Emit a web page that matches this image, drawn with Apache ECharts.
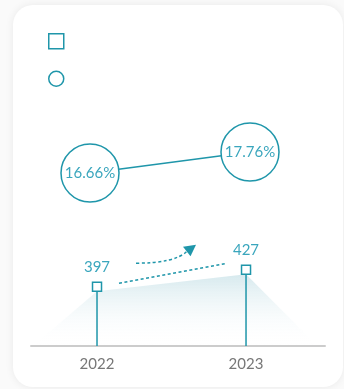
<!DOCTYPE html>
<html>
<head>
<meta charset="utf-8">
<script src="https://cdn.jsdelivr.net/npm/echarts@6/dist/echarts.min.js"></script>
<style>
  html, body { margin: 0; padding: 0; background: #fafafa; }
  #card { position: absolute; left: 13px; top: 5px; width: 330px; height: 382px;
          background: #fff; border-radius: 20px; box-shadow: 0 0 8px rgba(0,0,0,0.07); }
  #main { position: absolute; left: 0; top: 0; width: 344px; height: 389px; }
</style>
</head>
<body>
<div id="card"></div>
<div id="main"></div>
<script>
// 数据
var years = ['2022', '2023'];
var counts = [397, 427];
var ratios = [16.66, 17.76];
// 面积底边两端（年份坐标）
var areaEdges = [2021.57, 2023.48];

var teal = '#1f96aa';
var textTeal = '#3aa6bd';

var countPts = years.map(function (y, i) { return [Number(y), counts[i]]; });
var ratioPts = years.map(function (y, i) { return [Number(y), ratios[i]]; });
var areaPts = [[areaEdges[0], 300]].concat(countPts).concat([[areaEdges[1], 300]]);

var myChart = echarts.init(document.getElementById('main'));

var option = {
    animation: false,
    legend: {
        orient: 'vertical',
        left: 43,
        top: 28,
        itemWidth: 15,
        itemHeight: 15,
        itemGap: 21,
        formatter: function () { return ''; },
        data: [
            { name: '数量', icon: 'rect', itemStyle: { color: '#fff', borderColor: teal, borderWidth: 1.5 } },
            { name: '占比', icon: 'circle', itemStyle: { color: '#fff', borderColor: teal, borderWidth: 1.5 } }
        ]
    },
    grid: [
        { left: 31, right: 19, top: 233, height: 113 },
        { left: 90, width: 160, top: 109, height: 115 }
    ],
    xAxis: [
        {
            gridIndex: 0,
            type: 'value',
            min: 2021.557,
            max: 2023.53,
            splitLine: { show: false },
            axisTick: { show: false },
            axisLine: { show: true, onZero: false, lineStyle: { color: '#cccccc', width: 2 } },
            axisLabel: {
                customValues: [2022, 2023],
                margin: 11,
                color: '#777',
                fontSize: 15,
                fontFamily: 'Lato',
                formatter: function (v) { return String(v); }
            }
        },
        { gridIndex: 1, type: 'value', min: 2022, max: 2023, show: false }
    ],
    yAxis: [
        { gridIndex: 0, type: 'value', min: 300, max: 500, show: false },
        { gridIndex: 1, type: 'value', min: 14, max: 20, show: false }
    ],
    series: [
        {
            type: 'line',
            xAxisIndex: 0,
            yAxisIndex: 0,
            data: areaPts,
            symbol: 'none',
            silent: true,
            lineStyle: { width: 0, opacity: 0 },
            areaStyle: {
                color: new echarts.graphic.LinearGradient(0, 0, 0, 1, [
                    { offset: 0, color: 'rgba(30,135,160,0.26)' },
                    { offset: 1, color: 'rgba(255,255,255,0)' }
                ])
            },
            z: 1
        },
        {
            // 竖线
            type: 'custom',
            xAxisIndex: 0,
            yAxisIndex: 0,
            data: countPts,
            silent: true,
            renderItem: function (params, api) {
                var top = api.coord([api.value(0), api.value(1)]);
                var bottom = api.coord([api.value(0), 300]);
                return {
                    type: 'line',
                    shape: { x1: top[0], y1: top[1], x2: bottom[0], y2: bottom[1] },
                    style: { stroke: teal, lineWidth: 1.5 }
                };
            },
            z: 2
        },
        {
            name: '数量',
            type: 'scatter',
            xAxisIndex: 0,
            yAxisIndex: 0,
            data: countPts,
            symbol: 'rect',
            symbolSize: 9,
            symbolOffset: [0, '-50%'],
            itemStyle: { color: '#fff', borderColor: teal, borderWidth: 1.5, opacity: 1 },
            label: {
                show: true,
                position: 'top',
                distance: 7,
                color: textTeal,
                fontSize: 15,
                fontFamily: 'Lato',
                formatter: function (p) { return p.value[1]; }
            },
            z: 3
        },
        {
            name: '占比',
            type: 'line',
            xAxisIndex: 1,
            yAxisIndex: 1,
            data: ratioPts,
            symbol: 'circle',
            symbolSize: 58,
            lineStyle: { color: teal, width: 1.5 },
            itemStyle: { color: '#fff', borderColor: teal, borderWidth: 1.5 },
            label: {
                show: true,
                position: 'inside',
                color: textTeal,
                fontSize: 15,
                fontFamily: 'Lato',
                formatter: function (p) { return p.value[1].toFixed(2) + '%'; }
            },
            z: 3
        }
    ]
};
myChart.setOption(option);

// 虚线箭头装饰，按数据点位置摆放
var p1 = myChart.convertToPixel({ gridIndex: 0 }, countPts[0]);
var p2 = myChart.convertToPixel({ gridIndex: 0 }, countPts[1]);
myChart.setOption({
    graphic: [
        {
            type: 'line',
            shape: { x1: p1[0] + 22, y1: p1[1] - 8, x2: p2[0] - 19, y2: p2[1] - 11 },
            style: { stroke: teal, lineWidth: 1.5, lineDash: [3, 2.5] },
            silent: true
        },
        {
            type: 'bezierCurve',
            shape: { x1: p1[0] + 39, y1: p1[1] - 28, cpx1: p1[0] + 78, cpy1: p1[1] - 28, x2: p1[0] + 90, y2: p1[1] - 40 },
            style: { stroke: teal, lineWidth: 1.5, lineDash: [3, 2.5], fill: null },
            silent: true
        },
        {
            type: 'polygon',
            shape: { points: [[p1[0] + 99, p1[1] - 46.5], [p1[0] + 86, p1[1] - 44.5], [p1[0] + 93.5, p1[1] - 35]] },
            style: { fill: teal },
            silent: true
        }
    ]
});
</script>
</body>
</html>
